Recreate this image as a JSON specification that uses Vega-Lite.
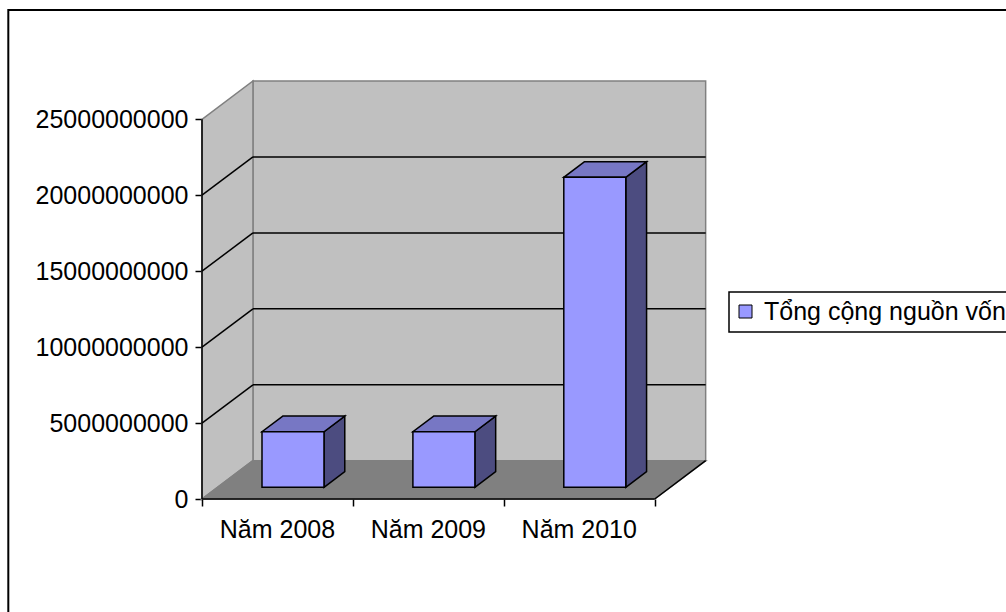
{
  "$schema": "https://vega.github.io/schema/vega-lite/v6.json",
  "width": 504,
  "height": 418,
  "autosize": {"type": "none"},
  "padding": {"left": 202, "top": 81, "right": 300, "bottom": 113},
  "background": "white",
  "config": {
    "view": {"stroke": null},
    "font": "Liberation Sans",
    "axis": {"grid": false, "domain": false, "tickColor": "black", "tickWidth": 1.5, "tickSize": 7},
    "axisX": {"labels": false},
    "axisY": {"labelFontSize": 25, "labelColor": "black", "labelFont": "Liberation Sans", "labelPadding": 7},
    "legend": {"strokeWidth": 1.5}
  },
  "datasets": {
    "bars": [
      {"year": "Năm 2008", "value": 3660000000},
      {"year": "Năm 2009", "value": 3660000000},
      {"year": "Năm 2010", "value": 20410000000}
    ],
    "levels": [
      {"level": 0},
      {"level": 5000000000},
      {"level": 10000000000},
      {"level": 15000000000},
      {"level": 20000000000},
      {"level": 25000000000}
    ]
  },
  "layer": [
    {
      "data": {"values": [{}]},
      "mark": {"type": "rect", "filled": false, "stroke": "black", "strokeWidth": 2},
      "encoding": {
        "x": {"datum": -1.2836, "type": "quantitative",
          "scale": {"domain": [0, 3.34], "nice": false, "zero": false},
          "axis": {"values": [0, 1, 2, 3], "labels": false, "title": null}},
        "x2": {"datum": 6},
        "y": {"datum": 32190000000, "type": "quantitative",
          "scale": {"domain": [0, 27520000000], "nice": false, "zero": false},
          "axis": {"values": [0, 5000000000, 10000000000, 15000000000, 20000000000, 25000000000], "format": "d", "title": null}},
        "y2": {"datum": -10000000000}
      }
    },
    {
      "data": {"values": [{}]},
      "mark": {"type": "rect", "fill": "#C0C0C0", "stroke": "#808080", "strokeWidth": 1.5},
      "encoding": {
        "x": {"datum": 0.3377, "type": "quantitative"},
        "x2": {"datum": 3.3377},
        "y": {"datum": 2520000000, "type": "quantitative"},
        "y2": {"datum": 27520000000}
      }
    },
    {
      "data": {"values": [{}]},
      "transform": [
        {"calculate": "[0, 0.3377]", "as": "xs"},
        {"calculate": "[0, 2520000000]", "as": "los"},
        {"calculate": "[25000000000, 27520000000]", "as": "his"},
        {"flatten": ["xs", "los", "his"]}
      ],
      "mark": {"type": "area", "orient": "vertical", "fill": "#C0C0C0", "stroke": "#808080", "strokeWidth": 1.5},
      "encoding": {
        "x": {"field": "xs", "type": "quantitative"},
        "y": {"field": "los", "type": "quantitative", "stack": null},
        "y2": {"field": "his"}
      }
    },
    {
      "data": {"values": [{}]},
      "transform": [
        {"calculate": "[0, 2520000000]", "as": "ys"},
        {"calculate": "[0, 0.3377]", "as": "los"},
        {"calculate": "[3, 3.3377]", "as": "his"},
        {"flatten": ["ys", "los", "his"]}
      ],
      "mark": {"type": "area", "orient": "horizontal", "fill": "#808080", "stroke": "#808080", "strokeWidth": 1.5},
      "encoding": {
        "y": {"field": "ys", "type": "quantitative"},
        "x": {"field": "los", "type": "quantitative", "stack": null},
        "x2": {"field": "his"}
      }
    },
    {
      "data": {"name": "levels"},
      "transform": [
        {"filter": "datum.level > 0 && datum.level < 25000000000"},
        {"calculate": "datum.level + 2520000000", "as": "yb"}
      ],
      "mark": {"type": "rule", "stroke": "black", "strokeWidth": 1.5},
      "encoding": {
        "x": {"datum": 0.3377, "type": "quantitative"},
        "x2": {"datum": 3.3377},
        "y": {"field": "yb", "type": "quantitative"}
      }
    },
    {
      "data": {"name": "levels"},
      "transform": [
        {"filter": "datum.level > 0 && datum.level < 25000000000"},
        {"calculate": "datum.level + 2520000000", "as": "yb"}
      ],
      "mark": {"type": "rule", "stroke": "black", "strokeWidth": 1.5},
      "encoding": {
        "x": {"datum": 0, "type": "quantitative"},
        "x2": {"datum": 0.3377},
        "y": {"field": "level", "type": "quantitative"},
        "y2": {"field": "yb"}
      }
    },
    {
      "data": {"values": [{}]},
      "mark": {"type": "rule", "stroke": "black", "strokeWidth": 1.5},
      "encoding": {
        "x": {"datum": 0, "type": "quantitative"},
        "y": {"datum": 0, "type": "quantitative"},
        "y2": {"datum": 25000000000}
      }
    },
    {
      "data": {"values": [{}]},
      "mark": {"type": "rule", "stroke": "black", "strokeWidth": 1.5},
      "encoding": {
        "x": {"datum": 0, "type": "quantitative"},
        "x2": {"datum": 3},
        "y": {"datum": 0, "type": "quantitative"}
      }
    },
    {
      "data": {"values": [{}]},
      "mark": {"type": "rule", "stroke": "black", "strokeWidth": 1.5},
      "encoding": {
        "x": {"datum": 3, "type": "quantitative"},
        "x2": {"datum": 3.3377},
        "y": {"datum": 0, "type": "quantitative"},
        "y2": {"datum": 2520000000}
      }
    },
    {
      "data": {"name": "bars"},
      "transform": [
        {"window": [{"op": "row_number", "as": "rn"}]},
        {"calculate": "datum.rn - 0.5", "as": "c"},
        {"calculate": "datum.c - 0.2054 + 0.103", "as": "fx0"},
        {"calculate": "datum.c + 0.2054 + 0.103", "as": "fx1"},
        {"calculate": "datum.c - 0.2054 + 0.2408", "as": "bx0"},
        {"calculate": "datum.c + 0.2054 + 0.2408", "as": "bx1"},
        {"calculate": "768600000", "as": "fy0"},
        {"calculate": "datum.value + 768600000", "as": "fy1"},
        {"calculate": "1796800000", "as": "by0"},
        {"calculate": "datum.value + 1796800000", "as": "by1"}
      ],
      "layer": [
        {
          "transform": [
            {"calculate": "[datum.fx1, datum.bx1]", "as": "sx"},
            {"calculate": "[datum.fy0, datum.by0]", "as": "slo"},
            {"calculate": "[datum.fy1, datum.by1]", "as": "shi"},
            {"flatten": ["sx", "slo", "shi"]}
          ],
          "mark": {"type": "area", "orient": "vertical", "fill": "#4C4C80", "stroke": "black", "strokeWidth": 1.5, "strokeJoin": "miter"},
          "encoding": {
            "x": {"field": "sx", "type": "quantitative"},
            "y": {"field": "slo", "type": "quantitative", "stack": null},
            "y2": {"field": "shi"},
            "detail": {"field": "year"}
          }
        },
        {
          "transform": [
            {"calculate": "[datum.fy1, datum.by1]", "as": "ty"},
            {"calculate": "[datum.fx0, datum.bx0]", "as": "tlo"},
            {"calculate": "[datum.fx1, datum.bx1]", "as": "thi"},
            {"flatten": ["ty", "tlo", "thi"]}
          ],
          "mark": {"type": "area", "orient": "horizontal", "fill": "#7777C4", "stroke": "black", "strokeWidth": 1.5, "strokeJoin": "miter"},
          "encoding": {
            "y": {"field": "ty", "type": "quantitative"},
            "x": {"field": "tlo", "type": "quantitative", "stack": null},
            "x2": {"field": "thi"},
            "detail": {"field": "year"}
          }
        },
        {
          "mark": {"type": "rect", "stroke": "black", "strokeWidth": 1.5, "strokeJoin": "miter"},
          "encoding": {
            "x": {"field": "fx0", "type": "quantitative"},
            "x2": {"field": "fx1"},
            "y": {"field": "fy0", "type": "quantitative"},
            "y2": {"field": "fy1"},
            "fill": {
              "datum": "Tổng cộng nguồn vốn", "type": "nominal",
              "scale": {"range": ["#9999FF"]},
              "legend": {"orient": "none", "legendX": 527, "legendY": 211, "title": null, "strokeColor": "black", "padding": 7, "symbolType": "square", "symbolSize": 169, "symbolStrokeColor": "black", "symbolStrokeWidth": 1, "symbolOpacity": 1, "symbolOffset": -3, "labelFont": "Liberation Sans", "labelFontSize": 25, "labelColor": "black", "labelLimit": 600, "labelOffset": 6}
            }
          }
        },
        {
          "mark": {"type": "text", "fontSize": 25, "font": "Liberation Sans", "color": "black", "align": "center", "baseline": "alphabetic", "dy": 39},
          "encoding": {
            "x": {"field": "c", "type": "quantitative"},
            "y": {"datum": 0, "type": "quantitative"},
            "text": {"field": "year"}
          }
        }
      ]
    }
  ]
}
